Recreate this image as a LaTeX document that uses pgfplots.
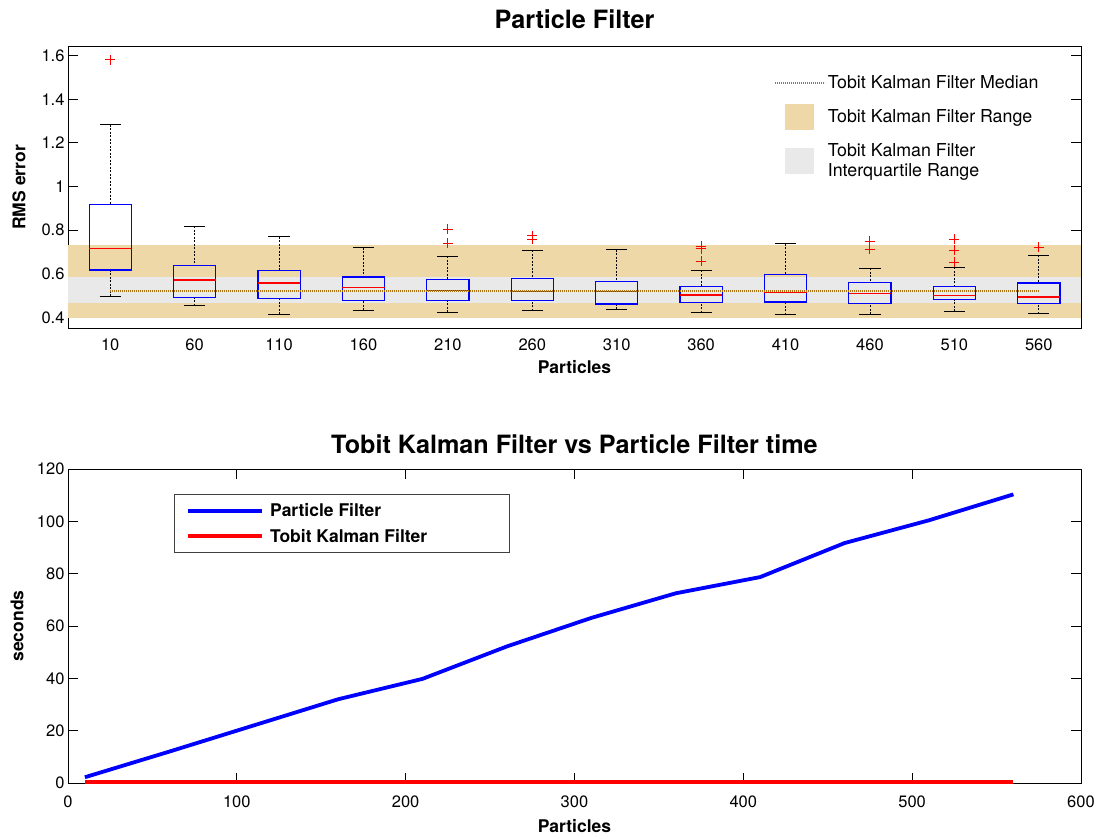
\documentclass[border=0pt]{standalone}
\usepackage{pgfplots}
\pgfplotsset{compat=1.18}
\usepgfplotslibrary{statistics}
\usepackage{fontspec}
\setmainfont{TeX Gyre Heros}
\definecolor{orangeband}{RGB}{238,216,168}
\definecolor{grayband}{RGB}{233,233,233}
\definecolor{medianc}{RGB}{176,116,24}
\definecolor{boxblue}{RGB}{0,0,255}
\pgfplotsset{
  boxplot/draw direction=y,
  boxplot/draw/box/.code={%
    \draw[draw=boxblue,fill=none,solid,line width=1.2pt]
      (boxplot box cs:\pgfplotsboxplotvalue{lower quartile},0) rectangle
      (boxplot box cs:\pgfplotsboxplotvalue{upper quartile},1);
  },
  boxplot/draw/median/.code={%
    \draw[draw=red,solid,line width=1.2pt]
      (boxplot box cs:\pgfplotsboxplotvalue{median},0) --
      (boxplot box cs:\pgfplotsboxplotvalue{median},1);
  },
  boxplot/draw/lower whisker/.code={%
    \draw[draw=black,dash pattern=on 2pt off 1.5pt,line width=0.8pt]
      (boxplot box cs:\pgfplotsboxplotvalue{lower whisker},0.5) --
      (boxplot box cs:\pgfplotsboxplotvalue{lower quartile},0.5);
    \draw[draw=black,solid,line width=1pt]
      (boxplot whisker cs:\pgfplotsboxplotvalue{lower whisker},0) --
      (boxplot whisker cs:\pgfplotsboxplotvalue{lower whisker},1);
  },
  boxplot/draw/upper whisker/.code={%
    \draw[draw=black,dash pattern=on 2pt off 1.5pt,line width=0.8pt]
      (boxplot box cs:\pgfplotsboxplotvalue{upper whisker},0.5) --
      (boxplot box cs:\pgfplotsboxplotvalue{upper quartile},0.5);
    \draw[draw=black,solid,line width=1pt]
      (boxplot whisker cs:\pgfplotsboxplotvalue{upper whisker},0) --
      (boxplot whisker cs:\pgfplotsboxplotvalue{upper whisker},1);
  },
  boxplot/box extend=0.5,
  boxplot/whisker extend=0.25,
  bx/.style={color=boxblue,line width=1pt,mark=+,mark size=5pt,mark options={draw=red,solid,line width=1pt},forget plot},
  longleg/.style={legend image code/.code={\draw[##1] (0pt,0pt) -- (74pt,0pt);}},
}
\begin{document}
\begin{tikzpicture}
\useasboundingbox (0,0) rectangle (1103pt,838pt);
% ---------------- top axis ----------------
\begin{axis}[
  at={(68pt,510pt)}, anchor=south west, scale only axis,
  width=1013pt, height=281.3pt,
  xmin=0.5, xmax=12.5, ymin=0.351, ymax=1.641,
  xtick={1,2,3,4,5,6,7,8,9,10,11,12},
  xticklabels={10,60,110,160,210,260,310,360,410,460,510,560},
  ytick={0.4,0.6,0.8,1,1.2,1.4,1.6},
  yticklabels={0.4,0.6,0.8,1,1.2,1.4,1.6},
  x tick style={draw=none},
  major tick length=10pt,
  tick align=inside,
  axis line style={line width=0.8pt},
  tick style={black,line width=0.8pt},
  /pgf/number format/assume math mode=true,
  tick label style={font=\fontsize{16.5}{18}\selectfont},
  xticklabel style={anchor=base,yshift=-23pt},
  title={Particle Filter},
  title style={font=\fontsize{25.2}{27}\selectfont\bfseries,at={(axis description cs:0.5,1)},anchor=center,yshift=21pt},
  xlabel={Particles},
  xlabel style={font=\fontsize{17.5}{19}\selectfont\bfseries,at={(axis description cs:0.5,0)},anchor=center,yshift=-39pt},
  ylabel={RMS error},
  ylabel style={font=\fontsize{17.5}{19}\selectfont\bfseries,at={(axis description cs:-0.0484,0.5)},anchor=center},
  legend style={draw=none,fill=none,at={(axis description cs:0.697,0.905)},anchor=north west,
    font=\fontsize{17.8}{20}\selectfont,cells={anchor=west,align=left},row sep=12pt,inner sep=0pt},
  legend cell align=left,
  clip=false,
]
\addlegendimage{legend image code/.code={\draw[medianc,dash pattern=on 1.2pt off 0.8pt,line width=1.6pt] (0pt,0pt) -- (50pt,0pt);}}
\addlegendentry{Tobit Kalman Filter Median}
\addlegendimage{legend image code/.code={\fill[orangeband] (10pt,-12.5pt) rectangle (38pt,12.5pt);}}
\addlegendentry{Tobit Kalman Filter Range}
\addlegendimage{legend image code/.code={\fill[grayband] (10pt,-12.5pt) rectangle (38pt,12.5pt);}}
\addlegendentry{Tobit Kalman Filter\\Interquartile Range}
% bands
\addplot[fill=orangeband,draw=none,forget plot] coordinates {(0.5,0.397) (12.5,0.397) (12.5,0.730) (0.5,0.730)};
\addplot[fill=grayband,draw=none,forget plot] coordinates {(0.5,0.467) (12.5,0.467) (12.5,0.586) (0.5,0.586)};
% boxes
\addplot[bx,boxplot prepared={draw position=1,lower whisker=0.497,lower quartile=0.617,median=0.715,upper quartile=0.916,upper whisker=1.284}] coordinates {(0,1.582)};
\addplot[bx,boxplot prepared={draw position=2,lower whisker=0.453,lower quartile=0.491,median=0.571,upper quartile=0.639,upper whisker=0.818}] coordinates {};
\addplot[bx,boxplot prepared={draw position=3,lower whisker=0.414,lower quartile=0.487,median=0.557,upper quartile=0.614,upper whisker=0.770}] coordinates {};
\addplot[bx,boxplot prepared={draw position=4,lower whisker=0.432,lower quartile=0.476,median=0.536,upper quartile=0.585,upper whisker=0.719}] coordinates {};
\addplot[bx,boxplot prepared={draw position=5,lower whisker=0.423,lower quartile=0.476,median=0.522,upper quartile=0.573,upper whisker=0.681}] coordinates {(0,0.803) (0,0.739)};
\addplot[bx,boxplot prepared={draw position=6,lower whisker=0.430,lower quartile=0.478,median=0.519,upper quartile=0.577,upper whisker=0.707}] coordinates {(0,0.775) (0,0.757)};
\addplot[bx,boxplot prepared={draw position=7,lower whisker=0.436,lower quartile=0.461,median=0.520,upper quartile=0.566,upper whisker=0.710}] coordinates {};
\addplot[bx,boxplot prepared={draw position=8,lower whisker=0.421,lower quartile=0.467,median=0.502,upper quartile=0.543,upper whisker=0.615}] coordinates {(0,0.727) (0,0.715) (0,0.658)};
\addplot[bx,boxplot prepared={draw position=9,lower whisker=0.412,lower quartile=0.470,median=0.513,upper quartile=0.595,upper whisker=0.737}] coordinates {};
\addplot[bx,boxplot prepared={draw position=10,lower whisker=0.414,lower quartile=0.462,median=0.511,upper quartile=0.559,upper whisker=0.626}] coordinates {(0,0.749) (0,0.711)};
\addplot[bx,boxplot prepared={draw position=11,lower whisker=0.427,lower quartile=0.482,median=0.499,upper quartile=0.540,upper whisker=0.629}] coordinates {(0,0.757) (0,0.707) (0,0.653)};
\addplot[bx,boxplot prepared={draw position=12,lower whisker=0.417,lower quartile=0.462,median=0.493,upper quartile=0.557,upper whisker=0.685}] coordinates {(0,0.722)};
% median line
\addplot[medianc,dash pattern=on 1.2pt off 0.8pt,line width=1.6pt,forget plot] coordinates {(1,0.522) (12,0.522)};
\end{axis}
% ---------------- bottom axis ----------------
\begin{axis}[
  at={(68pt,55pt)}, anchor=south west, scale only axis,
  width=1013pt, height=314pt,
  xmin=0, xmax=600, ymin=0, ymax=120,
  xtick distance=100, ytick distance=20,
  major tick length=10pt,
  tick align=inside,
  axis line style={line width=0.8pt},
  tick style={black,line width=0.8pt},
  /pgf/number format/assume math mode=true,
  tick label style={font=\fontsize{16.5}{18}\selectfont},
  xticklabel style={anchor=base,yshift=-24pt},
  title={Tobit Kalman Filter vs Particle Filter time},
  title style={font=\fontsize{25.2}{27}\selectfont\bfseries,at={(axis description cs:0.5,1)},anchor=center,yshift=19pt},
  xlabel={Particles},
  xlabel style={font=\fontsize{17.5}{19}\selectfont\bfseries,at={(axis description cs:0.5,0)},anchor=center,yshift=-43pt},
  ylabel={seconds},
  ylabel style={font=\fontsize{17.5}{19}\selectfont\bfseries,at={(axis description cs:-0.0503,0.5)},anchor=center},
  legend style={draw=black!75,line width=0.8pt,fill=white,at={(axis description cs:0.1046,0.920)},anchor=north west,
    font=\fontsize{17.5}{20}\selectfont\bfseries,cells={anchor=west},row sep=7pt,column sep=4pt,inner xsep=12pt,inner ysep=7pt},
  legend cell align=left,
]
\addplot[blue,line width=3.8pt,longleg] coordinates {
(10,2.2) (60,12.0) (110,22.0) (160,32.0) (210,39.8) (260,52.2) (310,63.1) (360,72.5) (410,78.7) (460,91.7) (510,100.4) (560,110.3)};
\addlegendentry{\makebox[225pt][l]{Particle Filter}}
\addplot[red,line width=3.8pt,longleg] coordinates {
(10,0.3) (60,0.3) (110,0.3) (160,0.3) (210,0.3) (260,0.3) (310,0.3) (360,0.3) (410,0.3) (460,0.3) (510,0.3) (560,0.3)};
\addlegendentry{\makebox[225pt][l]{Tobit Kalman Filter}}
\end{axis}
\end{tikzpicture}
\end{document}
